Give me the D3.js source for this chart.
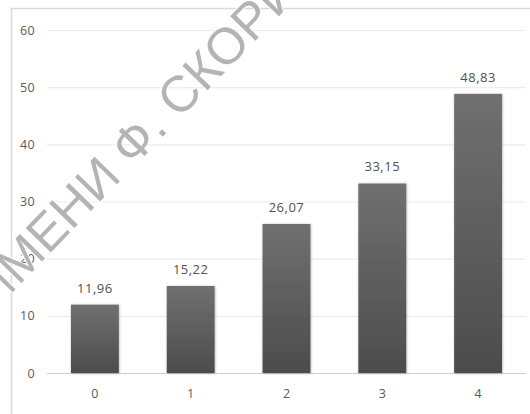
<!DOCTYPE html>
<html><head><meta charset="utf-8">
<script src="https://cdn.jsdelivr.net/npm/d3@7/dist/d3.min.js"></script>
<style>body{margin:0;background:#fff}svg{display:block}</style>
</head><body>
<svg id="c" width="530" height="414"></svg>
<script>
const categories = ["0","1","2","3","4"];
const values = [11.96, 15.22, 26.07, 33.15, 48.83];
const yTicks = [0,10,20,30,40,50,60];
const watermark = "ИМЕНИ Ф. СКОРИНЫ";

const svg = d3.select("#c");
const W = 530, H = 414;
const m = {left:47, right:4, top:30, bottom:41};
const FONT = "'Open Sans',sans-serif";
const x = d3.scaleBand().domain(categories).range([m.left, W - m.right]).paddingInner(0.5).paddingOuter(0.25);
const y = d3.scaleLinear().domain([0,60]).range([H - m.bottom, m.top]);

const defs = svg.append("defs");
const g = defs.append("linearGradient").attr("id","bg").attr("x1",0).attr("y1",0).attr("x2",0).attr("y2",1);
g.append("stop").attr("offset","0%").attr("stop-color","#707070");
g.append("stop").attr("offset","100%").attr("stop-color","#4c4c4c");
const f = defs.append("filter").attr("id","sh").attr("x","-20%").attr("y","-20%").attr("width","140%").attr("height","140%");
f.append("feDropShadow").attr("dx",0.5).attr("dy",0.5).attr("stdDeviation",1).attr("flood-color","#000").attr("flood-opacity",0.3);

// chart border
svg.append("path").attr("d",`M11.5,${H}V8.5H${W}`).attr("fill","none").attr("stroke","#d9d9d9").attr("stroke-width",1.5);

// gridlines + y labels
const yAxis = d3.axisLeft(y).tickValues(yTicks).tickSize(-(W - m.right - m.left)).tickPadding(12).tickFormat(d3.format("d"));
const ya = svg.append("g").attr("transform",`translate(${m.left},0)`).call(yAxis);
ya.select(".domain").remove();
ya.selectAll(".tick line").attr("stroke", d => d === 0 ? "#d0d0d0" : "#ececec").attr("stroke-width",1.2);
ya.selectAll(".tick text").attr("fill","#595959").style("font-family",FONT).style("font-size","12.5px").style("letter-spacing","0.3px");

// bars
svg.append("g").selectAll("rect").data(values).join("rect")
  .attr("x",(d,i)=>x(categories[i]))
  .attr("y",d=>y(d))
  .attr("width",x.bandwidth())
  .attr("height",d=>y(0)-y(d))
  .attr("fill","url(#bg)")
  .attr("filter","url(#sh)");

// value labels
svg.append("g").selectAll("text").data(values).join("text")
  .attr("x",(d,i)=>x(categories[i]) + x.bandwidth()/2)
  .attr("y",d=>y(d) - 12)
  .attr("text-anchor","middle")
  .attr("fill","#505050")
  .style("font-family",FONT)
  .style("font-size","13px")
  .style("letter-spacing","0.5px")
  .text(d=>d.toFixed(2).replace(".",","));

// x axis labels
const xAxis = d3.axisBottom(x).tickSize(0).tickPadding(16);
const xa = svg.append("g").attr("transform",`translate(0,${y(0)})`).call(xAxis);
xa.select(".domain").remove();
xa.selectAll(".tick text").attr("fill","#595959").style("font-family",FONT).style("font-size","12.5px");

// watermark: place centre of "М" at a target point
const fs = 51, ang = -46;
const wm = svg.append("text")
  .attr("fill","#b4b4b4")
  .attr("stroke","#fff").attr("stroke-width",2).attr("paint-order","stroke")
  .style("font-family","'Liberation Sans',Arial,sans-serif")
  .style("font-size",fs+"px")
  .text(watermark);
const node = wm.node();
const ext = node.getExtentOfChar(1);
const lx = ext.x + ext.width/2, ly = -0.36*fs;
const t = ang*Math.PI/180;
const rx = lx*Math.cos(t) - ly*Math.sin(t), ry = lx*Math.sin(t) + ly*Math.cos(t);
wm.attr("transform",`translate(${20 - rx},${258 - ry}) rotate(${ang})`);
</script>
</body></html>
